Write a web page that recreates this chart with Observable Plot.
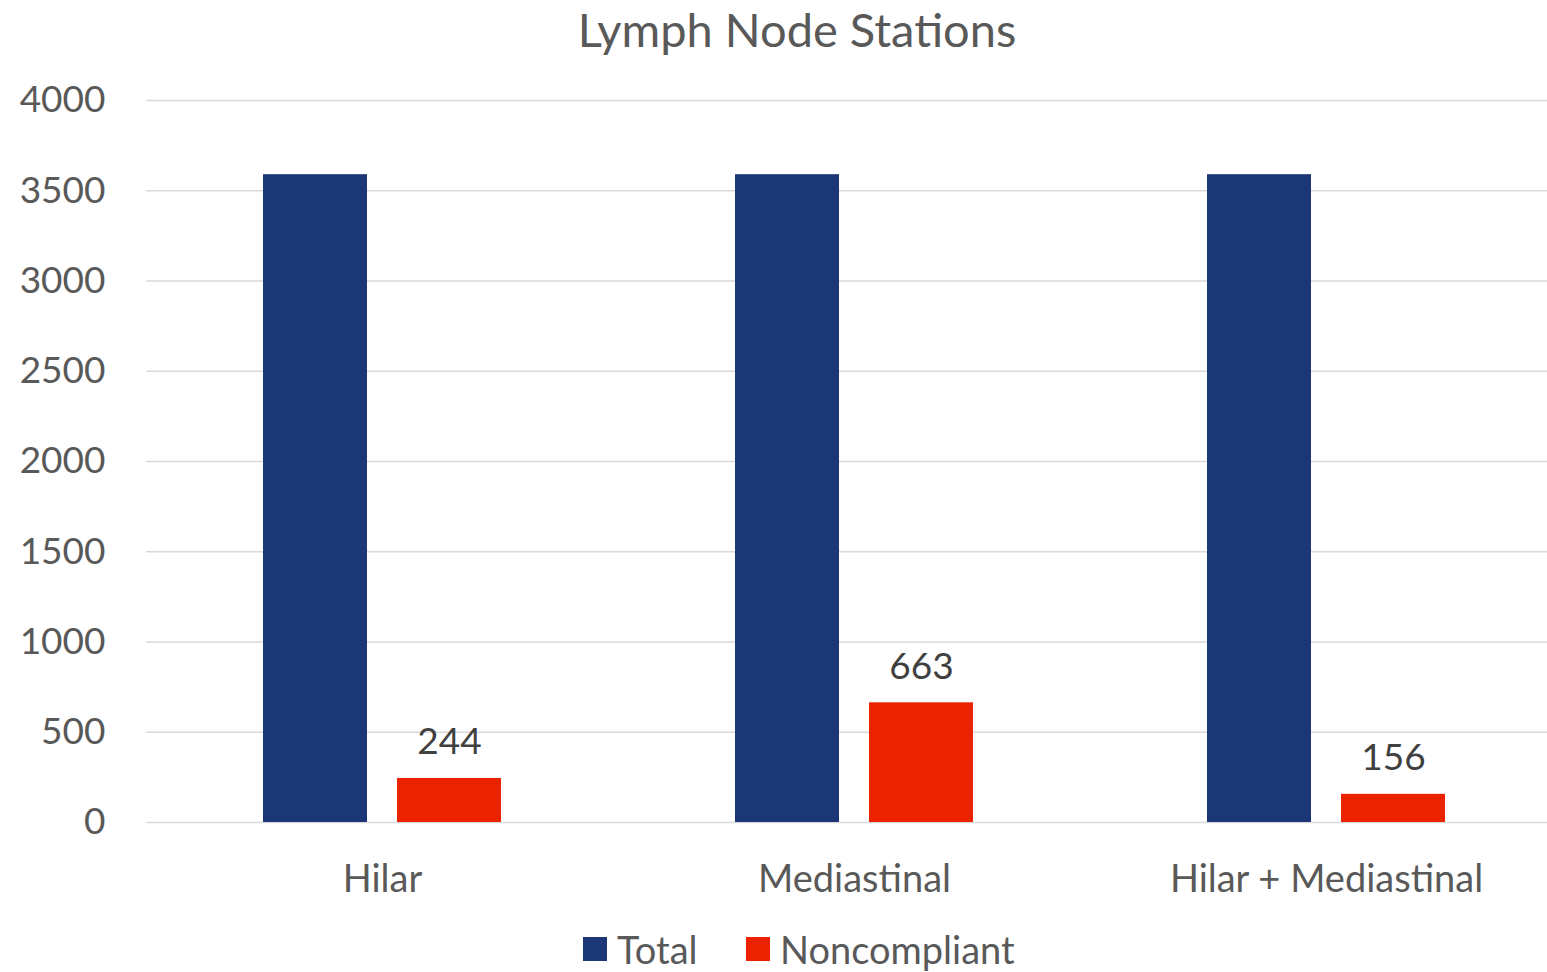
<!DOCTYPE html>
<html>
<head>
<meta charset="utf-8">
<script src="https://cdn.jsdelivr.net/npm/d3@7"></script>
<script src="https://cdn.jsdelivr.net/npm/@observablehq/plot@0.6"></script>
<style>
  html, body { margin: 0; padding: 0; background: #fff; overflow: hidden; }
  #wrap { position: relative; width: 1547px; height: 972px; overflow: hidden; font-family: Lato, "Open Sans", sans-serif; }
  #title { position: absolute; left: 0; top: 0; width: 1594px; height: 58px; line-height: 58px; text-align: center; font-size: 47px; color: #595959; }
  #chart { position: absolute; left: 0; top: 58px; }
  #chart svg { max-width: none; display: block; }
  .leg { position: absolute; top: 929px; height: 40px; line-height: 40px; display: flex; align-items: center; font-size: 38px; color: #595959; white-space: nowrap; }
  .sw { width: 24px; height: 24px; margin-right: 10px; }
</style>
</head>
<body>
<div id="wrap">
  <div id="title">Lymph Node Stations</div>
  <div id="chart"></div>
  <div class="leg" id="leg0"></div>
  <div class="leg" id="leg1"></div>
</div>
<script>
const categories = ["Hilar", "Mediastinal", "Hilar + Mediastinal"];
const seriesNames = ["Total", "Noncompliant"];
const seriesColors = ["#1B3775", "#EB2200"];
const totalValues = [3589, 3589, 3589];
const noncompliantValues = [244, 663, 156];
const yTicks = [0, 500, 1000, 1500, 2000, 2500, 3000, 3500, 4000];

const data = categories.flatMap((c, i) => [
  {category: c, series: "Total", value: totalValues[i]},
  {category: c, series: "Noncompliant", value: noncompliantValues[i]}
]);

const chart = Plot.plot({
  width: 1563,
  height: 872,
  marginTop: 42,
  marginBottom: 108,
  marginLeft: 145,
  marginRight: 0,
  style: {fontFamily: "Lato, 'Open Sans', sans-serif", fontSize: "36px", color: "#595959", background: "#fff"},
  fx: {domain: categories, padding: 0, label: null},
  x: {domain: seriesNames, paddingInner: 0.222, paddingOuter: 0.861, axis: null},
  y: {domain: [0, 4000], label: null},
  color: {domain: seriesNames, range: seriesColors},
  marks: [
    Plot.gridY(yTicks, {stroke: "#d9d9d9", strokeOpacity: 1, strokeWidth: 1.5}),
    Plot.axisY(yTicks, {tickSize: 0, tickPadding: 41, tickFormat: d3.format("d"), label: null, fontSize: 37}),
    Plot.axisFx({anchor: "bottom", tickSize: 0, tickPadding: 43, label: null, fontSize: 38}),
    Plot.barY(data, {fx: "category", x: "series", y: "value", fill: "series"}),
    Plot.text(data.filter(d => d.series === "Noncompliant"), {
      fx: "category", x: "series", y: "value", text: d => String(d.value),
      dy: -36, fill: "#404040", fontSize: 37
    })
  ]
});
document.getElementById("chart").appendChild(chart);

const legLefts = [583, 746];
seriesNames.forEach((s, i) => {
  const el = document.getElementById("leg" + i);
  el.style.left = legLefts[i] + "px";
  const sw = document.createElement("div");
  sw.className = "sw";
  sw.style.background = seriesColors[i];
  el.appendChild(sw);
  const t = document.createElement("span");
  t.textContent = s;
  el.appendChild(t);
});
</script>
</body>
</html>
